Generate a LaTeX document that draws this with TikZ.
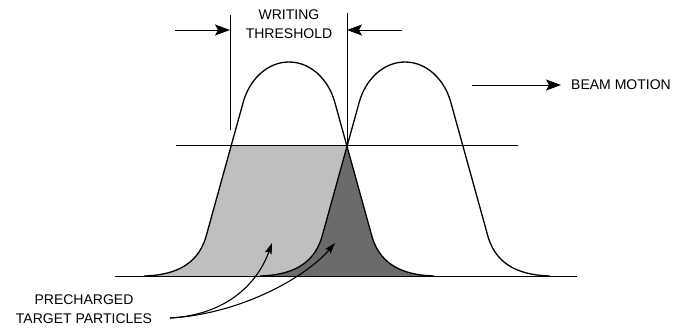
\documentclass[tikz,border=0pt]{standalone}
\usepackage{fontspec}
\setmainfont{Liberation Sans}
\usetikzlibrary{arrows.meta, positioning, calc}

% bell profile of the beam, centred on x = #1
\newcommand{\bell}[1]{(#1-145,276) .. controls (#1-110,275) and (#1-89,262) .. (#1-82,233)
    -- (#1-46,103) .. controls (#1-40,80) and (#1-22,62) .. (#1,62)
    .. controls (#1+22,62) and (#1+40,80) .. (#1+46,103)
    -- (#1+82,233) .. controls (#1+89,262) and (#1+110,275) .. (#1+145,276)}

\begin{document}
\begin{tikzpicture}[x=1pt, y=-1pt,
    curve/.style={line width=1.3pt, black},
    rule/.style={line width=1pt, black},
    dimarrow/.style={-{Stealth[length=15pt, width=11pt, inset=3pt]}, line width=1pt},
    leader/.style={-{Stealth[length=11pt, width=7pt, inset=2pt]}, line width=1.1pt},
    label/.style={font=\fontsize{14}{19}\selectfont, text=black, align=center, inner sep=0pt},
    lightdots/.style={fill=black!25},
    darkdots/.style={fill=black!58},
]

\useasboundingbox (0,0) rectangle (680,327);

% === SHADED AREAS ===
\begin{scope}
    \clip (0,145.5) rectangle (680,300);
    \fill[lightdots] \bell{289} -- cycle;
\end{scope}
\begin{scope}
    \clip \bell{405} -- cycle;
    \fill[darkdots] \bell{289} -- cycle;
\end{scope}

% === BASELINE AND THRESHOLD ===
\coordinate (basew) at (115,276);
\coordinate (basee) at (577,276);
\coordinate (thrw) at (176,145.5);
\coordinate (thre) at (518,145.5);
\draw[rule] (basew) -- (basee);
\draw[rule] (thrw) -- (thre);

% === BEAM PROFILES ===
\draw[curve] \bell{289};
\draw[curve] \bell{405};

% === WRITING THRESHOLD WIDTH ===
\node[label] (thresh) at (289,24.5) {WRITING\\THRESHOLD};
\coordinate (lvtop) at (230,15);
\coordinate (lvbot) at (230,130);
\coordinate (rvtop) at (347,13);
\coordinate (rvbot) at (347,146);
\draw[rule] (lvtop) -- (lvbot);
\draw[rule] (rvtop) -- (rvbot);
\coordinate (larr) at (175,30);
\coordinate (rarr) at (402,30);
\draw[dimarrow] (larr) -- (lvtop |- larr);
\draw[dimarrow] (rarr) -- (rvtop |- rarr);

% === BEAM MOTION ===
\node[label, inner xsep=10pt] (beam) at (621,85) {BEAM MOTION};
\coordinate (beamtail) at (472,85);
\draw[dimarrow] (beamtail) -- (beam.west);

% === PRECHARGED TARGET PARTICLES ===
\node[label] (particles) at (84,309.5) {PRECHARGED\\TARGET PARTICLES};
\coordinate (lead) at (170,318);
\coordinate (light) at (272,243);
\coordinate (dark) at (335,243);
\draw[leader] (lead) .. controls (225,315) and (257,285) .. (light);
\draw[leader] (lead) .. controls (240,314) and (305,278) .. (dark);

\end{tikzpicture}
\end{document}
